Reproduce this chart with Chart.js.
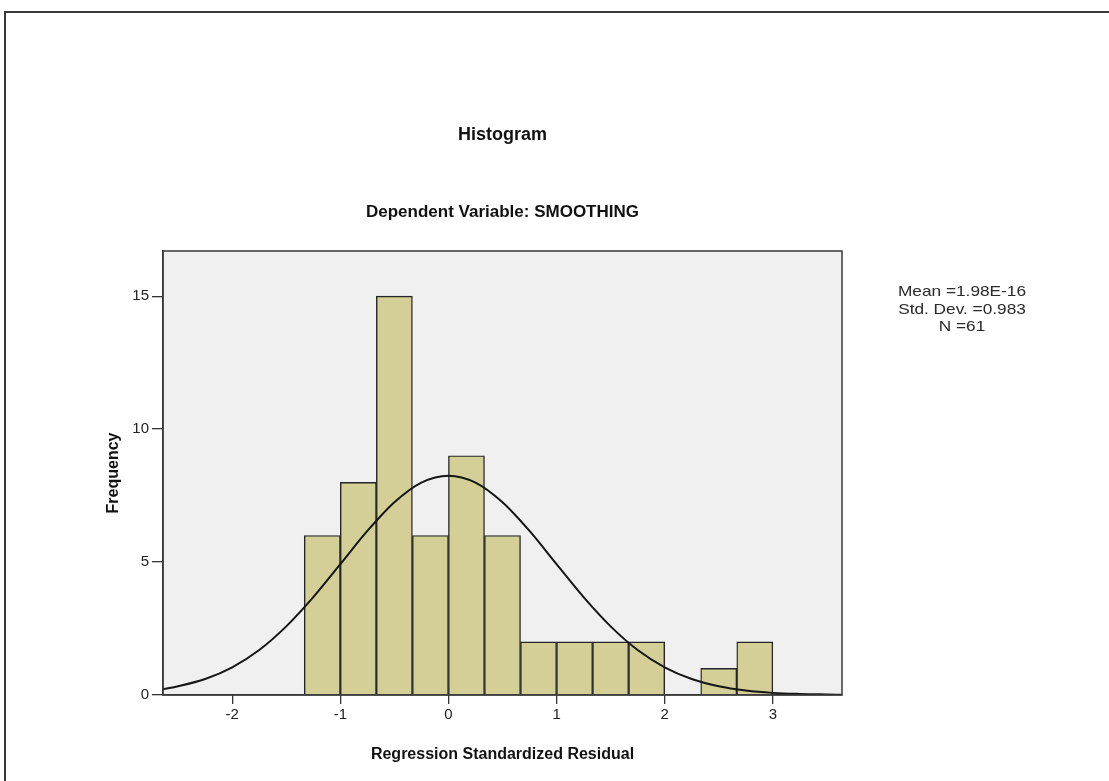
<!DOCTYPE html>
<html>
<head>
<meta charset="utf-8">
<script src="https://cdn.jsdelivr.net/npm/chart.js@4/dist/chart.umd.min.js"></script>
<style>
  html, body { margin:0; padding:0; background:#fff; overflow:hidden; }
  #wrap { position:absolute; left:0; top:0; width:1109px; height:781px; }
  #frame { position:absolute; left:4px; top:11px; width:1200px; height:900px; border:2px solid #3a3a3a; box-sizing:border-box; }
  .t { position:absolute; font-family: Arial, "Liberation Sans", sans-serif; color:#111; text-align:center; white-space:nowrap; }
  #title { left:0; width:1005px; top:123px; font-weight:bold; font-size:18px; line-height:22px; }
  #subtitle { left:0; width:1005px; top:201px; font-weight:bold; font-size:17px; line-height:22px; }
  #stats { left:862px; width:200px; top:282px; font-size:15px; line-height:17.5px; color:#2a2a2a; transform:scaleX(1.15); transform-origin:50% 0; }
  #cv { position:absolute; left:0; top:0; }
</style>
</head>
<body>
<div id="wrap">
  <div id="frame"></div>
  <div id="cvbox" style="position:absolute;left:0;top:0;width:1109px;height:781px;"><canvas id="cv"></canvas></div>
  <div class="t" id="title">Histogram</div>
  <div class="t" id="subtitle">Dependent Variable: SMOOTHING</div>
  <div class="t" id="stats">Mean =1.98E-16<br>Std. Dev. =0.983<br>N =61</div>
</div>
<script>
// ---- data ----
const binStarts = [-1.3333, -1, -0.6667, -0.3333, 0, 0.3333, 0.6667, 1, 1.3333, 1.6667, 2, 2.3333, 2.6667];
const binWidth = 1/3;
const counts = [6, 8, 15, 6, 9, 6, 2, 2, 2, 2, 0, 1, 2];
const curveX = [-2.64, -2.5, -2.25, -2, -1.75, -1.5, -1.25, -1, -0.75, -0.5, -0.25, 0, 0.25, 0.5, 0.75, 1, 1.25, 1.5, 1.75, 2, 2.25, 2.5, 2.75, 3, 3.25, 3.5, 3.64];
const curveY = [0.22, 0.33, 0.60, 1.04, 1.69, 2.58, 3.68, 4.92, 6.17, 7.25, 7.99, 8.25, 7.99, 7.25, 6.17, 4.92, 3.68, 2.58, 1.69, 1.04, 0.60, 0.33, 0.17, 0.08, 0.04, 0.02, 0.01];
const xTickValues = [-2, -1, 0, 1, 2, 3];
const yTickValues = [0, 5, 10, 15];
const xTitle = 'Regression Standardized Residual';
const yTitle = 'Frequency';

const FONT = 'Arial, "Liberation Sans", sans-serif';

const plotFrame = {
  id: 'plotFrame',
  beforeDraw(chart) {
    const {ctx, chartArea: a} = chart;
    ctx.save();
    ctx.fillStyle = '#f0f0f0';
    ctx.fillRect(a.left, a.top, a.right - a.left, a.bottom - a.top);
    ctx.restore();
  },
  afterDraw(chart) {
    const {ctx, chartArea: a} = chart;
    ctx.save();
    ctx.strokeStyle = '#3a3a3a';
    ctx.lineWidth = 1.5;
    ctx.strokeRect(a.left, a.top, a.right - a.left, a.bottom - a.top);
    ctx.restore();
  }
};

new Chart(document.getElementById('cv'), {
  data: {
    datasets: [
      {
        type: 'line',
        order: 0,
        data: curveX.map((x, i) => ({x, y: curveY[i]})),
        borderColor: '#151515',
        borderWidth: 2,
        pointRadius: 0,
        fill: false,
        cubicInterpolationMode: 'monotone'
      },
      {
        type: 'bar',
        order: 1,
        data: binStarts.map((s, i) => ({x: s + binWidth / 2, y: counts[i]})),
        backgroundColor: '#d3cf97',
        borderColor: '#262626',
        borderWidth: 1.4,
        barPercentage: 1,
        categoryPercentage: 1
      }
    ]
  },
  options: {
    responsive: true,
    maintainAspectRatio: false,
    animation: false,
    layout: { padding: { left: 100, right: 267, top: 251, bottom: 13 } },
    plugins: { legend: { display: false }, tooltip: { enabled: false }, title: { display: false } },
    scales: {
      x: {
        type: 'linear',
        offset: false,
        min: -2.64,
        max: 3.64,
        afterBuildTicks: s => { s.ticks = xTickValues.map(v => ({value: v})); },
        afterFit: s => { s.height = 73; },
        grid: { offset: false, drawOnChartArea: false, drawTicks: true, tickLength: 9, color: '#333', lineWidth: 1.3 },
        border: { color: '#333', width: 1.5 },
        ticks: { font: { family: FONT, size: 15 }, color: '#222', padding: 2, maxRotation: 0 },
        title: { display: true, text: xTitle, font: { family: FONT, size: 16, weight: 'bold' }, color: '#111', padding: { top: 4, bottom: 4 } }
      },
      y: {
        type: 'linear',
        min: 0,
        max: 16.7,
        afterBuildTicks: s => { s.ticks = yTickValues.map(v => ({value: v})); },
        afterFit: s => { s.width = 63; },
        grid: { drawOnChartArea: false, drawTicks: true, tickLength: 11, color: '#333', lineWidth: 1.3 },
        border: { color: '#333', width: 1.5 },
        ticks: { font: { family: FONT, size: 15 }, color: '#222', padding: 3 },
        title: { display: true, text: yTitle, font: { family: FONT, size: 16, weight: 'bold' }, color: '#111', padding: { top: 4, bottom: 4 } }
      }
    }
  },
  plugins: [plotFrame]
});
</script>
</body>
</html>
